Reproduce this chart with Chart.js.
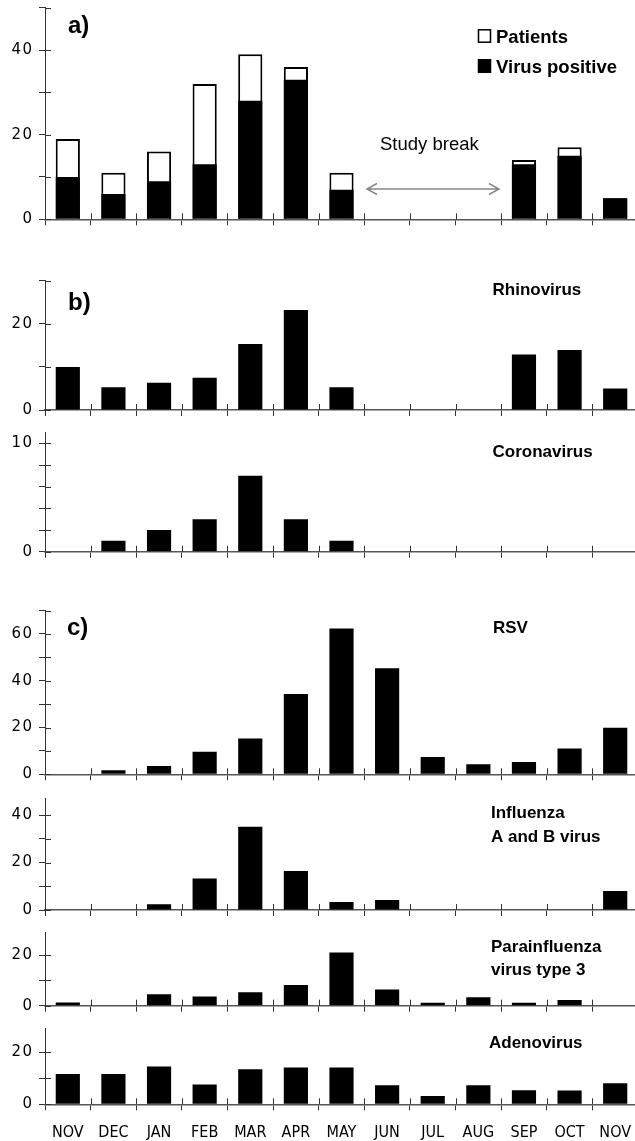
<!DOCTYPE html>
<html><head><meta charset="utf-8">
<script src="https://cdn.jsdelivr.net/npm/chart.js@4/dist/chart.umd.min.js"></script>
<style>
html,body{margin:0;padding:0;background:#fff;overflow:hidden;width:635px;height:1141px}
#wrap{position:relative;width:635px;height:1141px;overflow:hidden;background:#fff}
canvas{position:absolute;left:0}
</style></head><body><div id="wrap"></div>
<script>
// ---- data ----
const months = ['NOV','DEC','JAN','FEB','MAR','APR','MAY','JUN','JUL','AUG','SEP','OCT','NOV'];
const patients      = [19, 11, 16, 32, 39, 36, 11, null, null, null, 14, 17, 5];
const virusPositive = [10, 6, 9, 13, 28, 33, 7, null, null, null, 13, 15, 5];
const rhinovirus    = [10, 5.3, 6.3, 7.5, 15.3, 23.2, 5.3, null, null, null, 12.9, 13.9, 5];
const coronavirus   = [0, 1, 2, 3, 7, 3, 1, 0, 0, 0, 0, 0, 0];
const rsv           = [0, 1.7, 3.6, 9.6, 15.3, 34.3, 62.3, 45.3, 7.4, 4.3, 5.3, 11, 19.9];
const influenza     = [0, 0, 2.4, 13.3, 35.1, 16.4, 3.4, 4.2, 0, 0, 0, 0, 8];
const parainfluenza3= [1.3, 0, 4.5, 3.6, 5.3, 8.2, 21, 6.4, 1.2, 3.3, 1.2, 2.2, 0];
const adenovirus    = [11.7, 11.7, 14.5, 7.6, 13.5, 14.2, 14.2, 7.3, 3.2, 7.3, 5.4, 5.3, 8.1];
// y tick labels per panel
const yLabelsA      = [0, 20, 40];
const yLabelsRhino  = [0, 20];
const yLabelsCorona = [0, 10];
const yLabelsRSV    = [0, 20, 40, 60];
const yLabelsInflu  = [0, 20, 40];
const yLabelsPara   = [0, 20];
const yLabelsAdeno  = [0, 20];

const wrap = document.getElementById('wrap');
const BOLD = 'bold 17px "Liberation Sans", Arial, sans-serif';
const AXC = '#333';

function txt(ctx, s, x, y, font, align) {
  ctx.font = font; ctx.fillStyle = '#000'; ctx.textAlign = align || 'left';
  ctx.textBaseline = 'alphabetic'; ctx.fillText(s, x, y);
}

function addPanel(cfg) {
  const canvas = document.createElement('canvas');
  const canvasTop = Math.max(0, Math.floor(cfg.top) - 12);
  const xh = cfg.bottomAxis ? (1141 - cfg.zero) : 12;
  const H = Math.ceil(cfg.zero - canvasTop + xh);
  canvas.width = 640; canvas.height = H;
  canvas.style.top = canvasTop + 'px';
  canvas.style.width = '640px'; canvas.style.height = H + 'px';
  wrap.appendChild(canvas);
  const padTop = cfg.top - canvasTop;
  const padBottom = H - (cfg.zero - canvasTop) - xh;

  const decor = {
    id: 'decor',
    beforeDraw(chart) {
      const ys = chart.scales.y;
      if (!ys._lsPatched) {
        const orig = ys.drawLabels.bind(ys);
        ys.drawLabels = function (a) {
          const c = this.ctx; c.save();
          try { c.letterSpacing = '1.5px'; } catch (e) {}
          orig(a); c.restore();
        };
        ys._lsPatched = true;
      }
    },
    afterDraw(chart) {
      const ctx = chart.ctx, x = chart.scales.x, y = chart.scales.y, ca = chart.chartArea;
      ctx.save();
      ctx.strokeStyle = AXC; ctx.lineWidth = 1;
      ctx.beginPath();
      y.ticks.forEach(t => {
        const py = Math.round(y.getPixelForValue(t.value)) + 0.5;
        ctx.moveTo(ca.left, py); ctx.lineTo(ca.left + 6, py);
      });
      for (let i = 1; i <= months.length; i++) {
        const px = Math.round(x.getPixelForValue(i - 0.5)) + 0.5;
        ctx.moveTo(px, ca.bottom); ctx.lineTo(px, ca.bottom - 6);
      }
      ctx.stroke();
      ctx.translate(0, -canvasTop);
      (cfg.texts || []).forEach(t => txt(ctx, t[0], t[1], t[2], t[3] || BOLD, t[4]));
      if (cfg.extra) cfg.extra(ctx, chart);
      ctx.restore();
    }
  };

  return new Chart(canvas, {
    type: 'bar',
    data: { labels: months, datasets: cfg.datasets },
    options: {
      responsive: false, animation: false, devicePixelRatio: 1, events: [],
      layout: { padding: { top: padTop, left: 0, right: 2, bottom: padBottom } },
      plugins: { legend: { display: false }, tooltip: { enabled: false } },
      datasets: { bar: { categoryPercentage: 1, barPercentage: 0.53 } },
      scales: {
        x: {
          type: 'category', offset: true,
          grid: { offset: true, drawOnChartArea: false, drawTicks: true, tickLength: 6, color: AXC, lineWidth: 1 },
          border: { display: true, color: '#555', width: 1.5 },
          ticks: { display: !!cfg.bottomAxis, autoSkip: false, maxRotation: 0, padding: 12.5, color: '#000',
                   font: { family: '"Liberation Sans Narrow", "DejaVu Sans Condensed", "Liberation Sans", Arial, sans-serif', size: 16 } },
          afterFit: s => { s.height = xh; s.paddingLeft = 0; s.paddingRight = 0; }
        },
        y: {
          type: 'linear', position: 'left', min: 0, max: cfg.max,
          grid: { drawOnChartArea: false, drawTicks: true, tickLength: 6, color: AXC, lineWidth: 1 },
          border: { display: true, color: AXC, width: 1 },
          ticks: { autoSkip: false, padding: 5.5, color: '#000',
                   font: { family: '"DejaVu Sans", sans-serif', size: 15 },
                   callback: v => cfg.yLabels.includes(v) ? String(v) : '' },
          afterBuildTicks: s => {
            const t = [];
            for (let v = 0; v <= cfg.max + 1e-9; v += cfg.step) t.push({ value: v });
            s.ticks = t;
          },
          afterFit: s => { s.width = 45; s.paddingTop = 0; s.paddingBottom = 0; }
        }
      }
    },
    plugins: [decor]
  });
}

const black = d => ({ data: d, backgroundColor: '#000', borderWidth: 0 });

// Panel a
addPanel({
  max: 50, step: 10, top: 7.7, zero: 219.3, yLabels: yLabelsA,
  datasets: [
    { label: 'Patients', data: patients, backgroundColor: '#fff', borderColor: '#000', borderWidth: 2, grouped: false, order: 2 },
    { label: 'Virus positive', data: virusPositive, backgroundColor: '#000', borderWidth: 0, grouped: false, order: 1 }
  ],
  texts: [['a)', 68, 33, 'bold 24px "Liberation Sans", Arial, sans-serif'],
          ['Study break', 380, 150, '18.5px "Liberation Sans", Arial, sans-serif']],
  extra(ctx, chart) {
    // legend
    const ds = chart.data.datasets;
    const rows = [[ds[0], 42.7], [ds[1], 72.7]];
    rows.forEach(([d, base]) => {
      ctx.fillStyle = d.backgroundColor; ctx.fillRect(478, base - 13.4, 13, 13.4);
      ctx.strokeStyle = '#000'; ctx.lineWidth = 1.5; ctx.strokeRect(478.5, base - 12.9, 12, 12.4);
      txt(ctx, d.label, 496, base, 'bold 18.5px "Liberation Sans", Arial, sans-serif');
    });
    // study break arrow
    ctx.strokeStyle = '#888'; ctx.lineWidth = 1.5;
    ctx.beginPath();
    ctx.moveTo(367, 189); ctx.lineTo(499, 189);
    ctx.moveTo(377, 183.5); ctx.lineTo(367, 189); ctx.lineTo(377, 194.5);
    ctx.moveTo(489, 183.5); ctx.lineTo(499, 189); ctx.lineTo(489, 194.5);
    ctx.stroke();
  }
});

// Panel b
addPanel({ max: 30, step: 10, top: 280.7, zero: 410, yLabels: yLabelsRhino,
  datasets: [black(rhinovirus)],
  texts: [['b)', 68, 310, 'bold 24px "Liberation Sans", Arial, sans-serif'], ['Rhinovirus', 492.5, 295]] });
addPanel({ max: 11, step: 2, top: 432.5, zero: 551.7, yLabels: yLabelsCorona,
  datasets: [black(coronavirus)], texts: [['Coronavirus', 492.5, 457.3]] });

// Panel c
addPanel({ max: 70, step: 10, top: 610.6, zero: 774.3, yLabels: yLabelsRSV,
  datasets: [black(rsv)],
  texts: [['c)', 67, 635, 'bold 24px "Liberation Sans", Arial, sans-serif'], ['RSV', 493, 633]] });
addPanel({ max: 47, step: 10, top: 798.4, zero: 910, yLabels: yLabelsInflu,
  datasets: [black(influenza)], texts: [['Influenza', 491, 818.3], ['A and B virus', 491, 841.5]] });
addPanel({ max: 29, step: 10, top: 932.2, zero: 1005.7, yLabels: yLabelsPara,
  datasets: [black(parainfluenza3)], texts: [['Parainfluenza', 491, 952], ['virus type 3', 491, 975]] });
addPanel({ max: 29, step: 10, top: 1028.9, zero: 1104.3, yLabels: yLabelsAdeno, bottomAxis: true,
  datasets: [black(adenovirus)], texts: [['Adenovirus', 489, 1048]] });
</script></body></html>
